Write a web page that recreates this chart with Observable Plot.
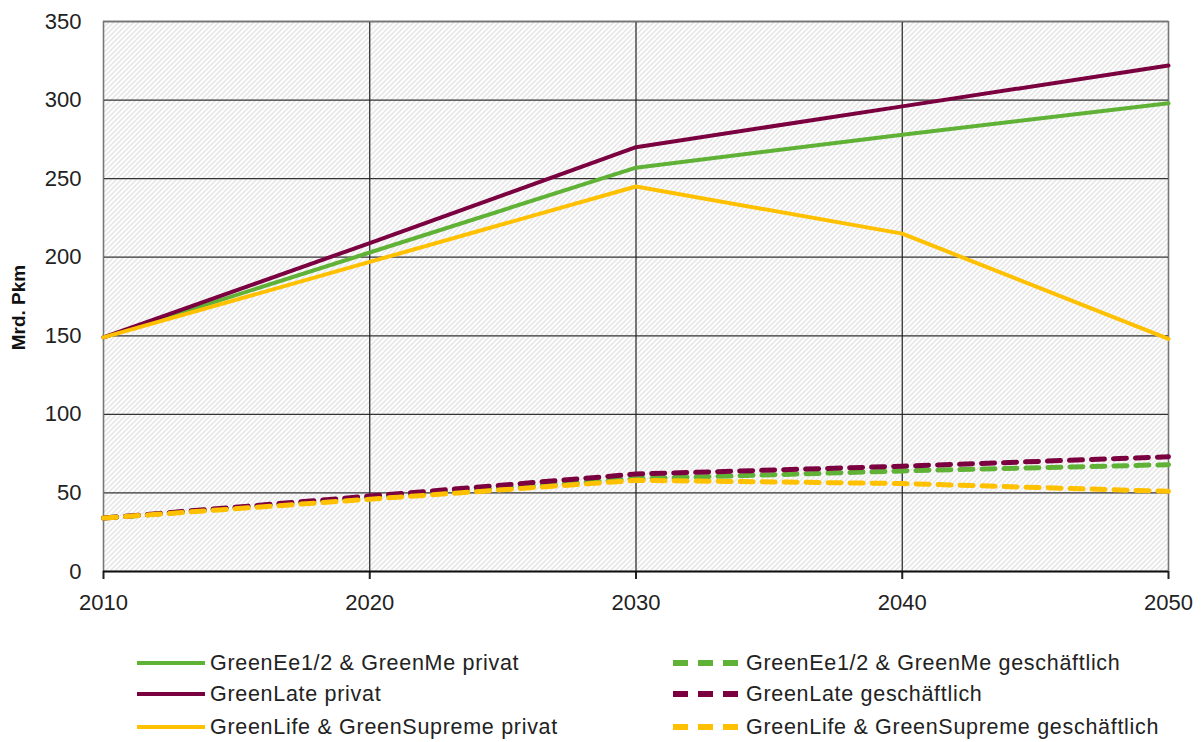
<!DOCTYPE html>
<html><head><meta charset="utf-8">
<script src="https://cdn.jsdelivr.net/npm/d3@7"></script>
<script src="https://cdn.jsdelivr.net/npm/@observablehq/plot@0.6"></script>
<style>
body{margin:0;background:#fff;font-family:"Liberation Sans",Arial,sans-serif;}
#wrap{position:relative;width:1201px;height:742px;}
.leg{position:absolute;display:flex;align-items:center;font-size:21.5px;letter-spacing:0.7px;color:#222;white-space:nowrap;height:30px;}
.leg svg{margin-right:5px;}
</style>
</head><body><div id="wrap"><div id="chart"></div></div><script>
const years = [2010, 2020, 2030, 2040, 2050];
const yTicks = [0, 50, 100, 150, 200, 250, 300, 350];
const seriesNames = [
  "GreenEe1/2 & GreenMe privat",
  "GreenLate privat",
  "GreenLife & GreenSupreme privat",
  "GreenEe1/2 & GreenMe geschäftlich",
  "GreenLate geschäftlich",
  "GreenLife & GreenSupreme geschäftlich"
];
const greenPrivat = [149, 203, 257, 278, 298];
const latePrivat = [149, 209, 270, 296, 322];
const lifePrivat = [149, 197, 245, 215, 148];
const greenGesch = [34, 47, 59, 64, 68];
const lateGesch = [34, 48, 62, 67, 73];
const lifeGesch = [34, 46, 58, 56, 51];
const seriesValues = [greenPrivat, latePrivat, lifePrivat, greenGesch, lateGesch, lifeGesch];
const seriesColors = ["#5fb236", "#7a0040", "#ffc000", "#5fb236", "#7a0040", "#ffc000"];
const seriesDashed = [false, false, false, true, true, true];

const rows = [];
seriesNames.forEach((name, i) => years.forEach((yr, j) => rows.push({series: name, year: yr, value: seriesValues[i][j]})));

const lineMarks = seriesNames.map((name, i) => Plot.line(rows.filter(d => d.series === name), {
  x: "year", y: "value",
  stroke: seriesColors[i],
  strokeWidth: seriesDashed[i] ? 5 : 4,
  strokeDasharray: seriesDashed[i] ? "13,9" : null,
  strokeLinejoin: "round"
}));

const chart = Plot.plot({
  width: 1201, height: 630,
  marginLeft: 103, marginRight: 33, marginTop: 21, marginBottom: 59,
  style: {fontFamily: '"Liberation Sans", Arial, sans-serif', fontSize: "22px", color: "#222", background: "white"},
  x: {type: "linear", domain: [2010, 2050]},
  y: {domain: [0, 350]},
  marks: [
    Plot.frame({fill: "url(#hatch)", stroke: "none"}),
    Plot.ruleY(yTicks.filter(d => d > 0), {stroke: "#333", strokeWidth: 1.3}),
    Plot.ruleX(years, {stroke: "#222", strokeWidth: 1.2}),
    Plot.frame({stroke: "#777", strokeWidth: 1.3}),
    Plot.axisY({ticks: yTicks, tickSize: 0, tickPadding: 22, label: null, fontSize: 22}),
    Plot.axisX({ticks: years, tickFormat: d => String(d), tickSize: 8, tickPadding: 15, label: null, fontSize: 22, strokeWidth: 2}),
    Plot.ruleY([0], {stroke: "#111", strokeWidth: 2}),
    ...lineMarks,
    Plot.text(["Mrd. Pkm"], {frameAnchor: "left", textAnchor: "middle", dx: -85, dy: 11, rotate: -90, fontWeight: "bold", fontSize: 19, fill: "#111"})
  ]
});

const ns = "http://www.w3.org/2000/svg";
const defs = document.createElementNS(ns, "defs");
defs.innerHTML = '<pattern id="hatch" width="5" height="5" patternUnits="userSpaceOnUse"><rect width="5" height="5" fill="#fdfdfd"/><path d="M-1,1 l2,-2 M0,5 l5,-5 M4,6 l2,-2" stroke="#cdcdcd" stroke-width="1"/></pattern>';
chart.insertBefore(defs, chart.firstChild);
document.getElementById("chart").appendChild(chart);

// legend
const wrap = document.getElementById("wrap");
const legX = [137, 673];
const legY = [663, 694, 727];
seriesNames.forEach((name, i) => {
  const col = seriesDashed[i] ? 1 : 0;
  const row = i % 3;
  const div = document.createElement("div");
  div.className = "leg";
  div.style.left = legX[col] + "px";
  div.style.top = (legY[row] - 15) + "px";
  const sw = d3.create("svg").attr("width", 68).attr("height", 10);
  sw.append("line").attr("x1", 0).attr("x2", 68).attr("y1", 5).attr("y2", 5)
    .attr("stroke", seriesColors[i]).attr("stroke-width", seriesDashed[i] ? 6 : 4)
    .attr("stroke-dasharray", seriesDashed[i] ? "15,10" : null);
  div.appendChild(sw.node());
  const t = document.createElement("span");
  t.textContent = name;
  div.appendChild(t);
  wrap.appendChild(div);
});
</script></body></html>
